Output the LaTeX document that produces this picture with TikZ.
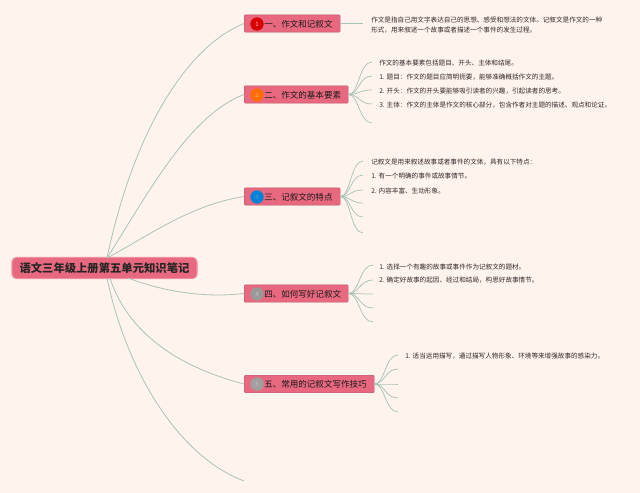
\documentclass[tikz,border=0pt]{standalone}
\usepackage{fontspec}
\setmainfont{Noto Sans CJK SC}
\usetikzlibrary{calc}
\definecolor{bgc}{HTML}{FFF3ED}
\definecolor{nodec}{HTML}{E8697F}
\definecolor{edgec}{HTML}{A8C4B4}
\definecolor{txtc}{HTML}{2E2A2A}
\tikzset{
 x=0.75pt,y=-0.75pt,
 rootbox/.style={draw=nodec!75!white,line width=0.8pt,fill=nodec,rounded corners=3.5pt,minimum width=138.75pt,minimum height=16pt,inner sep=0pt,font=\fontsize{8.5}{10}\selectfont\bfseries,text=black!85},
 branchbox/.style={draw=nodec!80!black,line width=0.3pt,fill=nodec,rounded corners=0.8pt,minimum height=13pt,inner sep=0pt,anchor=west},
 branchtxt/.style={font=\fontsize{6.4}{8}\selectfont,text=black!90,anchor=west,inner sep=0pt},
 note/.style={font=\fontsize{4.95}{7.9}\selectfont,text=txtc,anchor=west,inner sep=0pt,align=left},
 icon/.style={circle,minimum size=10pt,inner sep=0pt,font=\fontsize{4.5}{5}\selectfont},
 link/.style={draw=edgec,line width=0.6pt},
 sublink/.style={draw=edgec,line width=0.55pt},
}
\newcommand{\subfan}[3]{% node, end x, list of names/y
 \foreach \e/\y in {#3}{
  \coordinate (#1\e) at (#2,\y);
  \draw[sublink] (#1.east) .. controls ($(#1.east)!0.45!(#1.east-|#1\e)$) and ($(#1\e)!0.55!(#1\e-|#1.east)$) .. (#1\e);
 }}
\begin{document}
\begin{tikzpicture}
\useasboundingbox (0,0) rectangle (640,493);
\fill[bgc] (0,0) rectangle (640,493);
% nodes
\node[branchbox,minimum width=72pt] (n1) at (244,23.5) {};
\node[branchbox,minimum width=78pt] (n2) at (244,94.5) {};
\node[branchbox,minimum width=72pt] (n3) at (244,196.5) {};
\node[branchbox,minimum width=78pt] (n4) at (244,293.5) {};
\node[branchbox,minimum width=97.5pt] (n5) at (244,384) {};
\node[rootbox] (root) at (104.5,268) {语文三年级上册第五单元知识笔记};
% icons
\node[icon,fill=red!85!black,text=white!75!red] (i1) at (257,24) {1};
\node[icon,fill=orange!85!red,text=orange!60!white] (i2) at (257,95) {2};
\node[icon,fill=blue!40!cyan!85!black,text=cyan!50!blue!60!white] (i3) at (257,197) {3};
\node[icon,fill=gray!80,text=gray!45] (i4) at (257,294) {4};
\node[icon,fill=gray!75,text=gray!45] (i5) at (257,384) {5};
% branch labels
\node[branchtxt] (t1) at (264,24) {一、作文和记叙文};
\node[branchtxt] (t2) at (264,95) {二、作文的基本要素};
\node[branchtxt] (t3) at (264,197) {三、记叙文的特点};
\node[branchtxt] (t4) at (264,294) {四、如何写好记叙文};
\node[branchtxt] (t5) at (264,384.5) {五、常用的记叙文写作技巧};
% free ends
\coordinate (ru) at (107,258);
\coordinate (rd) at (107,278);
\coordinate (rf) at (128,278);
\coordinate (rg) at (110,278);
\coordinate (last) at (244,481);
\coordinate (b1a) at (363,23.5);
% connectors
\draw[link] (ru) .. controls (135,125) and (190,45) .. (n1.west);
\draw[link] (ru) .. controls (150,190) and (190,115) .. (n2.west);
\draw[link] (ru) .. controls (150,235) and (190,205) .. (n3.west);
\draw[link] (rf) .. controls (165,292) and (205,298) .. (n4.west);
\draw[link] (rg) .. controls (130,340) and (190,370) .. (n5.west);
\draw[link] (rd) .. controls (125,365) and (175,455) .. (last);
\draw[sublink,line width=0.8pt] (n1.east) -- (b1a);
\subfan{n2}{372}{a/62,b/76,c/90,d/104,e/123}
\subfan{n3}{363}{a/161,b/175,c/190,d/203,e/217,f/233}
\subfan{n4}{373}{a/265,b/280,c/294,d/308,e/322}
\subfan{n5}{398}{a/355,b/369,c/384,d/398,e/412}
% notes
\node[note] (p1) at (371,25) {作文是指自己用文字表达自己的思想、感受和想法的文体。记叙文是作文的一种\\形式，用来叙述一个故事或者描述一个事件的发生过程。};
\node[note] (p2a) at (379,62.5) {作文的基本要素包括题目、开头、主体和结尾。};
\node[note] (p2b) at (379,77) {1. 题目：作文的题目应简明扼要，能够准确概括作文的主题。};
\node[note] (p2c) at (379,91) {2. 开头：作文的开头要能够吸引读者的兴趣，引起读者的思考。};
\node[note] (p2d) at (379,105) {3. 主体：作文的主体是作文的核心部分，包含作者对主题的描述、观点和论证。};
\node[note] (p3a) at (371,162) {记叙文是用来叙述故事或者事件的文体，具有以下特点：};
\node[note] (p3b) at (371,176) {1. 有一个明确的事件或故事情节。};
\node[note] (p3c) at (371,190.5) {2. 内容丰富、生动形象。};
\node[note] (p4a) at (379,266.5) {1. 选择一个有趣的故事或事件作为记叙文的题材。};
\node[note] (p4b) at (379,280.5) {2. 确定好故事的起因、经过和结局，构思好故事情节。};
\node[note] (p5a) at (405,356.5) {1. 适当运用描写，通过描写人物形象、环境等来增强故事的感染力。};
\end{tikzpicture}
\end{document}
